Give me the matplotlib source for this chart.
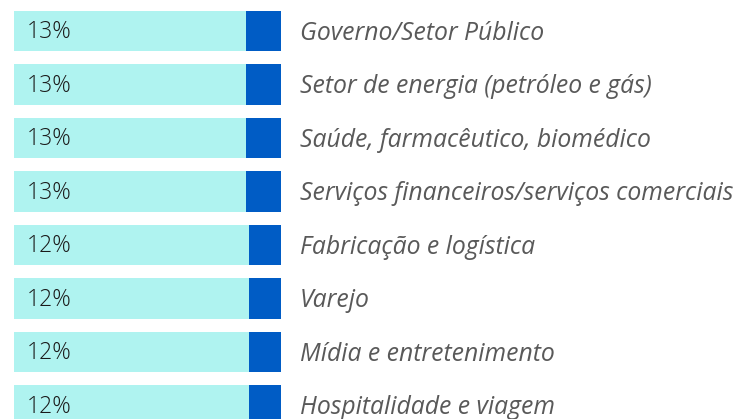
import matplotlib.pyplot as plt

setores = ["Governo/Setor Público",
           "Setor de energia (petróleo e gás)",
           "Saúde, farmacêutico, biomédico",
           "Serviços financeiros/serviços comerciais",
           "Fabricação e logística",
           "Varejo",
           "Mídia e entretenimento",
           "Hospitalidade e viagem"]
valores = [13, 13, 13, 13, 12, 12, 12, 12]
total = [100] * len(valores)

ciano = "#aff3f0"
azul = "#005cc5"

fig = plt.figure(figsize=(7.38, 4.19), dpi=100)
ax = fig.add_axes([0, 0, 1, 1])

pos = list(range(len(valores)))
ax.barh(pos, total, height=0.75, color=ciano, left=0)
ax.barh(pos, valores, height=0.75, color=azul, left=[t - v for t, v in zip(total, valores)])

for i, (s, v) in enumerate(zip(setores, valores)):
    ax.text(4.9, i + 0.02, f"{v}%", va="center", ha="left", fontsize=16.5,
            family="Open Sans", fontweight="light", color="#1a1a1a")
    ax.text(107.1, i + 0.04, s, va="center", ha="left", fontsize=17.8,
            family="Open Sans", style="italic", color="#595959")

ax.set_xlim(-5.24, 271.2)
ax.set_ylim(7.252, -0.579)
ax.axis("off")

fig.savefig("out.png", dpi=100)
